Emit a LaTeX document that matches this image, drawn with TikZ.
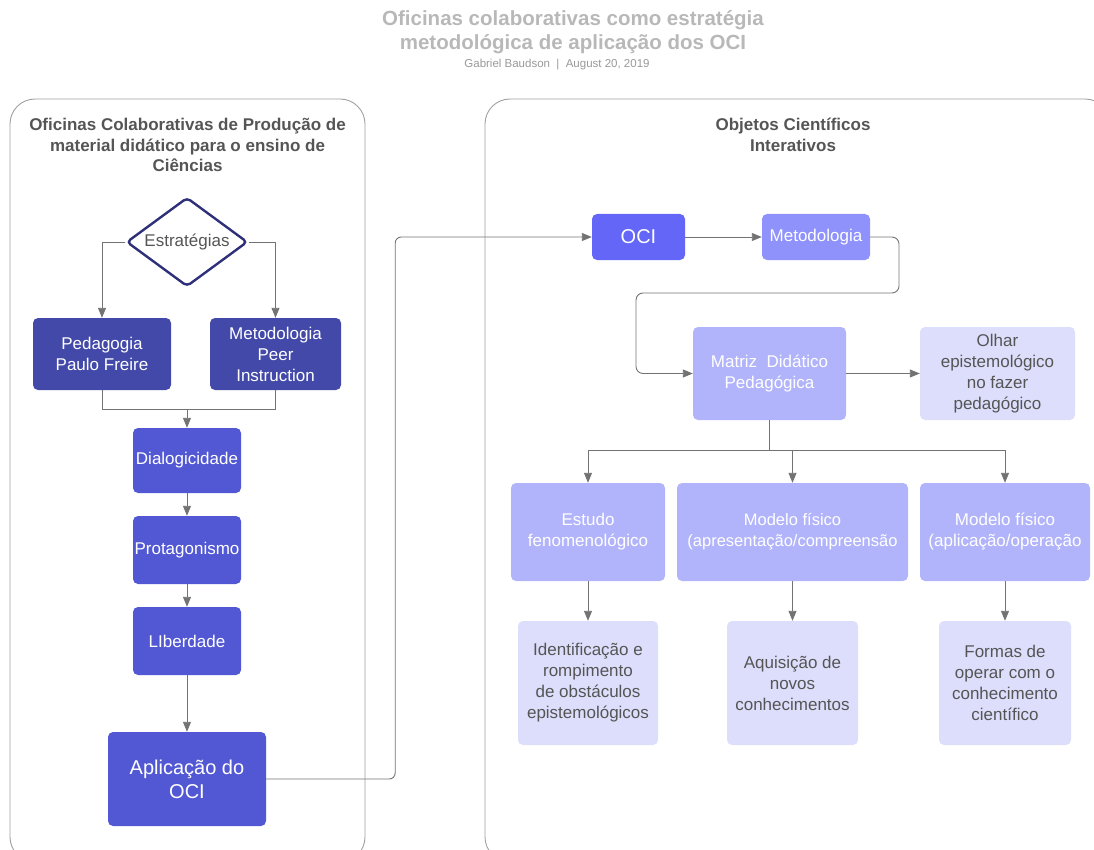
\documentclass[tikz,border=0pt]{standalone}
\usepackage{fontspec}
\setmainfont{Liberation Sans}
\usetikzlibrary{shapes.geometric,arrows.meta}
\definecolor{cdark}{RGB}{67,73,168}
\definecolor{cmid}{RGB}{82,88,211}
\definecolor{coci}{RGB}{99,102,247}
\definecolor{cmet}{RGB}{143,146,250}
\definecolor{clight}{RGB}{178,180,251}
\definecolor{cpale}{RGB}{221,222,251}
\definecolor{ctext}{RGB}{85,85,85}
\definecolor{cline}{RGB}{115,115,115}
\definecolor{cframe}{RGB}{160,160,160}
\tikzset{
  box/.style={rectangle, rounded corners=5pt, draw=none, align=center, inner sep=1pt,
    font=\fontsize{17}{21}\selectfont},
  boxdark/.style={box, fill=cdark, text=white},
  boxmid/.style={box, fill=cmid, text=white},
  boxlight/.style={box, fill=clight, text=white},
  boxpale/.style={box, fill=cpale, text=ctext},
  conn/.style={draw=cline, line width=0.9pt, -{Triangle[length=10pt,width=8pt]}},
  plainline/.style={draw=cline, line width=0.9pt},
  frame/.style={draw=cframe, line width=0.9pt, rounded corners=25pt},
  ftitle/.style={align=center, text=ctext, font=\bfseries\fontsize{17}{20.5}\selectfont}
}
\begin{document}
\begin{tikzpicture}[x=1pt,y=-1pt]
\useasboundingbox (0,0) rectangle (1094,850);
\clip (0,0) rectangle (1094,850);
% header
\node[align=center, text=black!28, font=\bfseries\fontsize{20.5}{24}\selectfont] (title) at (573,32)
  {Oficinas colaborativas como estratégia\\metodológica de aplicação dos OCI};
\node[text=black!40, font=\fontsize{11.5}{13}\selectfont] (sub) at (557,64.5) {Gabriel Baudson \ | \ August 20, 2019};
% containers
\draw[frame] (10,99) rectangle (365,862);
\draw[frame] (485,99) rectangle (1110,862);
\node[ftitle] (lt) at (187.5,145) {Oficinas Colaborativas de Produção de\\material didático para o ensino de\\Ciências};
\node[ftitle] (rt) at (793,135) {Objetos Científicos\\Interativos};
% left column
\node[diamond, aspect=1.35, draw={rgb,255:red,46;green,48;blue,122}, line width=2.4pt, rounded corners=4pt,
  minimum width=121pt, minimum height=89pt, inner sep=0pt, text=ctext, font=\fontsize{17}{21}\selectfont]
  (est) at (187,242) {Estratégias};
\node[boxdark, minimum width=138pt, minimum height=72pt] (ped) at (102,354) {Pedagogia\\Paulo Freire};
\node[boxdark, minimum width=131pt, minimum height=72pt] (pi) at (275.5,354) {Metodologia\\Peer\\Instruction};
\node[boxmid, minimum width=108pt, minimum height=65pt] (dia) at (187,460.5) {Dialogicidade};
\node[boxmid, minimum width=108pt, minimum height=68pt] (pro) at (187,550) {Protagonismo};
\node[boxmid, minimum width=108pt, minimum height=68pt] (lib) at (187,641) {LIberdade};
\node[boxmid, minimum width=158pt, minimum height=94pt, font=\fontsize{20}{24}\selectfont] (apl) at (187,779) {Aplicação do\\OCI};
\coordinate (j1) at (187,409);
\draw[conn] (est.west) -| (ped.north);
\draw[conn] (est.east) -| (pi.north);
\draw[plainline] (ped.south) |- (j1);
\draw[plainline] (pi.south) |- (j1);
\draw[conn] (j1) -- (dia.north);
\draw[conn] (dia) -- (pro);
\draw[conn] (pro) -- (lib);
\draw[conn] (lib) -- (apl);
% right column
\node[box, fill=coci, text=white, minimum width=93pt, minimum height=46pt, font=\fontsize{20}{24}\selectfont] (oci) at (638.5,237) {OCI};
\node[box, fill=cmet, text=white, minimum width=108pt, minimum height=46pt] (met) at (816,237) {Metodologia};
\node[boxlight, minimum width=153pt, minimum height=93pt] (mat) at (769.5,373.5) {Matriz \ Didático\\Pedagógica};
\node[boxpale, minimum width=155pt, minimum height=93pt] (olh) at (997.5,373.5) {Olhar\\epistemológico\\no fazer\\pedagógico};
\node[boxlight, minimum width=154pt, minimum height=98pt] (etf) at (588,532) {Estudo\\fenomenológico};
\node[boxlight, minimum width=231pt, minimum height=98pt, font=\fontsize{16.5}{21}\selectfont] (mf1) at (792.5,532) {Modelo físico\\(apresentação/compreensão};
\node[boxlight, minimum width=170pt, minimum height=98pt] (mf2) at (1005,532) {Modelo físico\\(aplicação/operação};
\node[boxpale, minimum width=140pt, minimum height=124pt] (ide) at (588,683) {Identificação e\\rompimento\\de obstáculos\\epistemológicos};
\node[boxpale, minimum width=131pt, minimum height=124pt] (aqu) at (792.5,683) {Aquisição de\\novos\\conhecimentos};
\node[boxpale, minimum width=132pt, minimum height=124pt] (frm) at (1005,683) {Formas de\\operar com o\\conhecimento\\científico};
% connectors right
\draw[conn, rounded corners=6pt] (apl.east) -- ++(129,0) |- (oci.west);
\draw[conn] (oci) -- (met);
\coordinate (m1) at (899,293);
\coordinate (m2) at (636,293);
\draw[conn, rounded corners=7pt] (met.east) -| (m1) -- (m2) |- (mat.west);
\draw[conn] (mat) -- (olh);
\coordinate (k1) at (769.5,450);
\draw[plainline] (mat.south) -- (k1);
\draw[conn] (k1) -| (etf.north);
\draw[conn] (k1) -| (mf1.north);
\draw[conn] (k1) -| (mf2.north);
\draw[conn] (etf) -- (ide);
\draw[conn] (mf1) -- (aqu);
\draw[conn] (mf2) -- (frm);
\end{tikzpicture}
\end{document}
